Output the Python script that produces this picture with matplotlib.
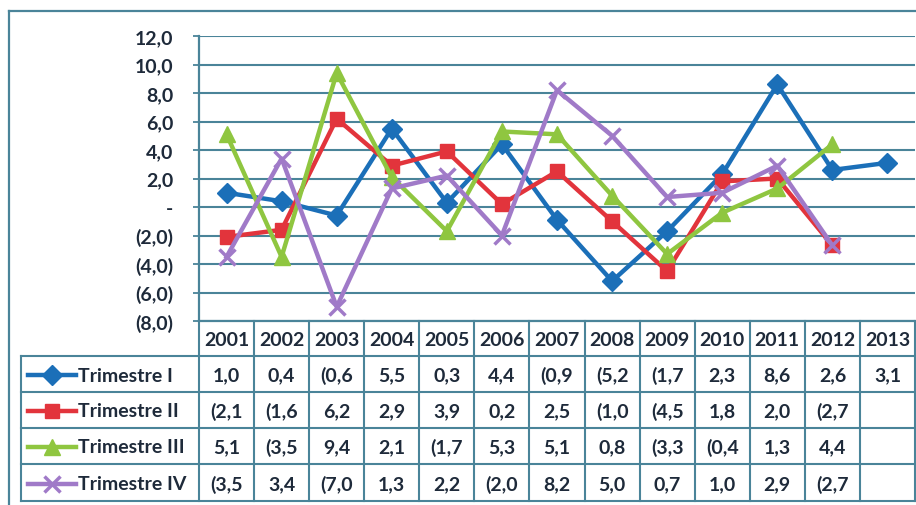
import numpy as np
import matplotlib
matplotlib.use("Agg")
import matplotlib.pyplot as plt

years = ["2001", "2002", "2003", "2004", "2005", "2006", "2007",
         "2008", "2009", "2010", "2011", "2012", "2013"]
series_names = ["Trimestre I", "Trimestre II", "Trimestre III", "Trimestre IV"]
t1 = [1.0, 0.4, -0.6, 5.5, 0.3, 4.4, -0.9, -5.2, -1.7, 2.3, 8.6, 2.6, 3.1]
t2 = [-2.1, -1.6, 6.2, 2.9, 3.9, 0.2, 2.5, -1.0, -4.5, 1.8, 2.0, -2.7, None]
t3 = [5.1, -3.5, 9.4, 2.1, -1.7, 5.3, 5.1, 0.8, -3.3, -0.4, 1.3, 4.4, None]
t4 = [-3.5, 3.4, -7.0, 1.3, 2.2, -2.0, 8.2, 5.0, 0.7, 1.0, 2.9, -2.7, None]
yticks = [12, 10, 8, 6, 4, 2, 0, -2, -4, -6, -8]

colors = ["#1b6fb8", "#e2343c", "#8fc640", "#a07ac8"]
markers = ["D", "s", "^", "x"]
msizes = [10, 10.5, 12, 11]
grid_c = "#4a8499"
txt_c = "#1e2a3a"
FONT = "Lato"
FS = 14

def fmt(v):
    # Excel accounting style, truncated in the table like the picture
    if v is None:
        return ""
    s = f"{abs(v):.1f}".replace(".", ",")
    return "(" + s if v < 0 else s

def ylab(v):
    if v == 0:
        return "-"
    s = f"{abs(v):.1f}".replace(".", ",")
    return f"({s})" if v < 0 else s

W, H = 916, 506
fig = plt.figure(figsize=(W / 100, H / 100), dpi=100)

# pixel geometry
x0, x1 = 199, 915
y_top, y_bot = 37, 322
colw = (x1 - x0) / len(years)
row_edges = [322, 357, 393, 429, 465, 502]

# background / frame axes in pixel coords
bg = fig.add_axes([0, 0, 1, 1])
bg.set_xlim(0, W); bg.set_ylim(H, 0); bg.axis("off")
bg.plot([9, W + 5], [12, 12], color=grid_c, lw=1.6)
bg.plot([9, 9], [12, H + 5], color=grid_c, lw=1.6)

# main chart
ax = fig.add_axes([x0 / W, (H - y_bot) / H, (x1 - x0) / W, (y_bot - y_top) / H])
ax.set_facecolor("none")
xs = np.arange(len(years))
for vals, c, m, ms in zip([t1, t2, t3, t4], colors, markers, msizes):
    y = np.array([np.nan if v is None else v for v in vals], dtype=float)
    ax.plot(xs, y, color=c, lw=3.2, marker=m, ms=ms, mew=2.5 if m == "x" else 1,
            mec=c, mfc=c, zorder=3, clip_on=False)
ax.set_xlim(-0.5, len(years) - 0.5)
ax.set_ylim(-8, 12)
ax.set_yticks(yticks)
ax.set_yticklabels([ylab(v) for v in yticks], fontsize=FS, fontweight="bold",
                   color=txt_c, family=FONT)
ax.yaxis.grid(True, color=grid_c, lw=1.5)
ax.set_axisbelow(True)
ax.set_xticks([])
ax.tick_params(axis="y", length=4, width=1.3, color=grid_c, pad=14.5)
for s in ["top", "right"]:
    ax.spines[s].set_visible(False)
ax.spines["left"].set_color(grid_c); ax.spines["left"].set_linewidth(1.6)
ax.spines["bottom"].set_color(grid_c); ax.spines["bottom"].set_linewidth(1.6)

# data table
tb = fig.add_axes([0, 0, 1, 1])
tb.set_xlim(0, W); tb.set_ylim(H, 0); tb.axis("off")
for k in range(len(years) + 1):
    xv = x0 + k * colw
    tb.plot([xv, xv], [row_edges[0], row_edges[-1]], color=grid_c, lw=1.5)
tb.plot([21, 21], [row_edges[1], row_edges[-1]], color=grid_c, lw=1.5)
for ye in row_edges[1:]:
    tb.plot([21, x1], [ye, ye], color=grid_c, lw=1.5)

kw = dict(fontsize=FS, fontweight="bold", color=txt_c, family=FONT,
          va="center")
hy = (row_edges[0] + row_edges[1]) / 2 + 1
for k, yr in enumerate(years):
    tb.text(x0 + (k + 0.5) * colw, hy, yr, ha="center", **kw)

for r, (name, vals, c, m, ms) in enumerate(zip(series_names, [t1, t2, t3, t4],
                                               colors, markers, msizes)):
    cy = (row_edges[r + 1] + row_edges[r + 2]) / 2 + 1
    tb.plot([28, 76], [cy, cy], color=c, lw=3.2)
    tb.plot([52], [cy], marker=m, ms=ms, color=c, mew=2.5 if m == "x" else 1)
    tb.text(78, cy, name, ha="left", **kw)
    for k, v in enumerate(vals):
        tb.text(x0 + (k + 0.5) * colw, cy, fmt(v), ha="center", **kw)

fig.savefig("out.png", dpi=100, facecolor="white")
